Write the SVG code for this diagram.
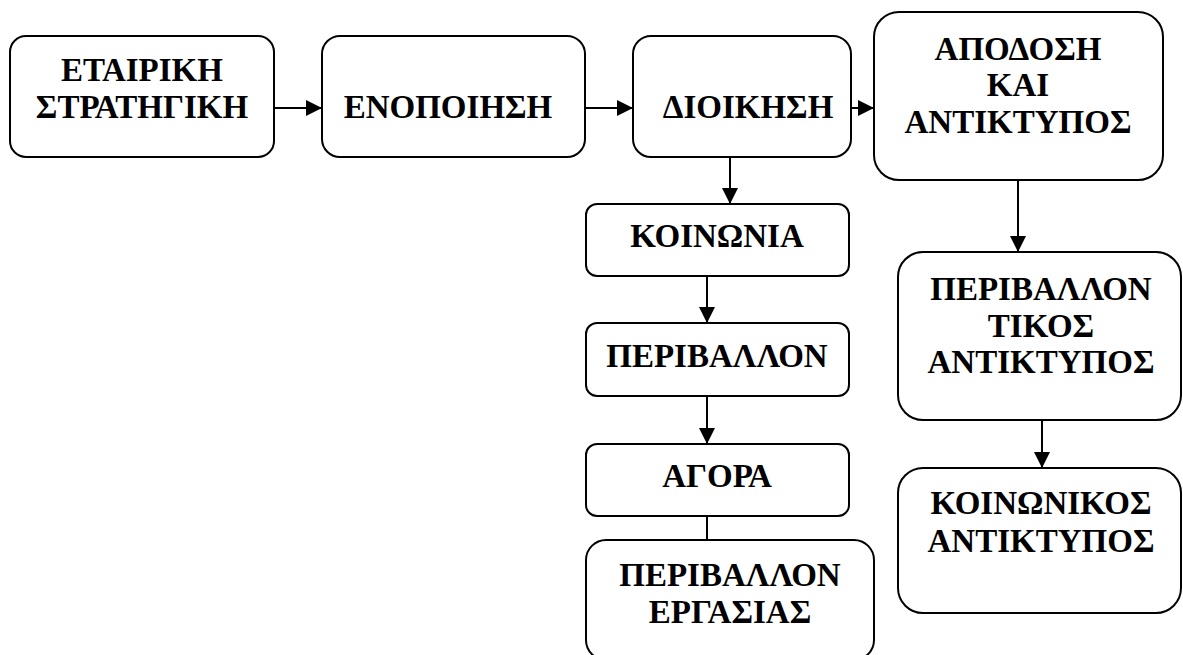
<svg xmlns="http://www.w3.org/2000/svg" width="1183" height="655" viewBox="0 0 1183 655">
<style>
.box{fill:#fff;stroke:#000;stroke-width:2}
.t{font-family:"Liberation Serif","Times New Roman",serif;font-weight:bold;font-size:33px;fill:#000;text-anchor:middle}
.c{stroke:#000;stroke-width:2;fill:none}
</style>
<defs>
<marker id="ah" markerUnits="userSpaceOnUse" markerWidth="17" markerHeight="16" refX="16" refY="8" orient="auto">
<path d="M0,0 L16,8 L0,16 Z" fill="#000"/>
</marker>
</defs>
<rect width="1183" height="655" fill="#fff"/>
<g id="connectors">
<line class="c" x1="274" y1="108" x2="322" y2="108" marker-end="url(#ah)"/>
<line class="c" x1="585" y1="108" x2="633" y2="108" marker-end="url(#ah)"/>
<line class="c" x1="851" y1="108" x2="874" y2="108" marker-end="url(#ah)"/>
<line class="c" x1="730" y1="157" x2="730" y2="204" marker-end="url(#ah)"/>
<line class="c" x1="707" y1="276" x2="707" y2="323" marker-end="url(#ah)"/>
<line class="c" x1="707" y1="396" x2="707" y2="444" marker-end="url(#ah)"/>
<line class="c" x1="707" y1="516" x2="707" y2="540"/>
<line class="c" x1="1018" y1="180" x2="1018" y2="252" marker-end="url(#ah)"/>
<line class="c" x1="1042" y1="420" x2="1042" y2="468" marker-end="url(#ah)"/>
</g>
<g id="n1">
<rect class="box" x="10" y="36" width="264" height="121" rx="16"/>
<text class="t" x="142" y="81">ΕΤΑΙΡΙΚΗ</text>
<text class="t" x="142" y="118">ΣΤΡΑΤΗΓΙΚΗ</text>
</g>
<g id="n2">
<rect class="box" x="322" y="36" width="263" height="121" rx="18"/>
<text class="t" x="448" y="118">ΕΝΟΠΟΙΗΣΗ</text>
</g>
<g id="n3">
<rect class="box" x="633" y="36" width="218" height="121" rx="18"/>
<text class="t" x="748" y="118">ΔΙΟΙΚΗΣΗ</text>
</g>
<g id="n4">
<rect class="box" x="874" y="12" width="289" height="168" rx="25"/>
<text class="t" x="1018" y="60">ΑΠΟΔΟΣΗ</text>
<text class="t" x="1018" y="96">ΚΑΙ</text>
<text class="t" x="1018" y="133">ΑΝΤΙΚΤΥΠΟΣ</text>
</g>
<g id="n5">
<rect class="box" x="586" y="204" width="263" height="72" rx="11"/>
<text class="t" x="717" y="247">ΚΟΙΝΩΝΙΑ</text>
</g>
<g id="n6">
<rect class="box" x="586" y="323" width="263" height="73" rx="11"/>
<text class="t" x="717" y="367">ΠΕΡΙΒΑΛΛΟΝ</text>
</g>
<g id="n7">
<rect class="box" x="586" y="444" width="263" height="72" rx="11"/>
<text class="t" x="717" y="487">ΑΓΟΡΑ</text>
</g>
<g id="n8">
<rect class="box" x="586" y="540" width="288" height="120" rx="20"/>
<text class="t" x="730" y="586">ΠΕΡΙΒΑΛΛΟΝ</text>
<text class="t" x="730" y="623">ΕΡΓΑΣΙΑΣ</text>
</g>
<g id="n9">
<rect class="box" x="898" y="252" width="283" height="168" rx="25"/>
<text class="t" x="1041" y="300">ΠΕΡΙΒΑΛΛΟΝ</text>
<text class="t" x="1041" y="337">ΤΙΚΟΣ</text>
<text class="t" x="1041" y="373">ΑΝΤΙΚΤΥΠΟΣ</text>
</g>
<g id="n10">
<rect class="box" x="898" y="468" width="283" height="145" rx="25"/>
<text class="t" x="1041" y="514">ΚΟΙΝΩΝΙΚΟΣ</text>
<text class="t" x="1041" y="552">ΑΝΤΙΚΤΥΠΟΣ</text>
</g>
</svg>
